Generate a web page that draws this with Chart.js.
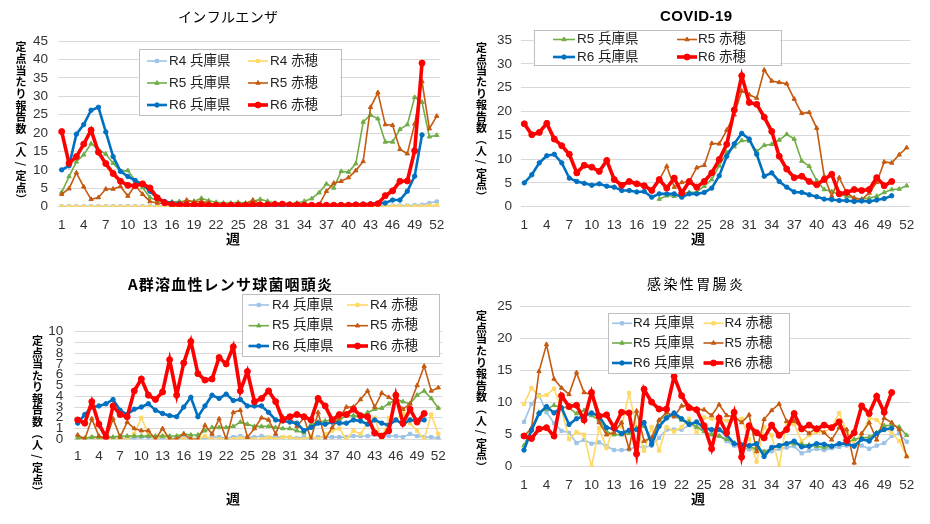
<!DOCTYPE html>
<html lang="ja">
<head>
<meta charset="utf-8">
<script src="https://cdn.jsdelivr.net/npm/chart.js@4.4.1/dist/chart.umd.min.js"></script>
<style>
html,body{margin:0;padding:0;background:#fff;}
body{width:930px;height:524px;position:relative;overflow:hidden;}
.q{position:absolute;width:465px;height:262px;}
.q canvas{display:block;}
</style>
</head>
<body>
<div class="q" style="left:0;top:0"><canvas id="c1" width="465" height="262"></canvas></div>
<div class="q" style="left:465px;top:0"><canvas id="c2" width="465" height="262"></canvas></div>
<div class="q" style="left:0;top:262px"><canvas id="c3" width="465" height="262"></canvas></div>
<div class="q" style="left:465px;top:262px"><canvas id="c4" width="465" height="262"></canvas></div>
<script>
// ---------------- DATA ----------------
const WEEKS = ['1','2','3','4','5','6','7','8','9','10','11','12','13','14','15','16','17','18','19','20',
  '21','22','23','24','25','26','27','28','29','30','31','32','33','34','35','36','37','38','39','40',
  '41','42','43','44','45','46','47','48','49','50','51','52'];

const SERIES_NAMES = ['R4 兵庫県', 'R4 赤穂', 'R5 兵庫県', 'R5 赤穂', 'R6 兵庫県', 'R6 赤穂'];

const TITLES = ['インフルエンザ', 'COVID-19', 'A群溶血性レンサ球菌咽頭炎', '感染性胃腸炎'];
const Y_TITLE = '定点当たり報告数（人/定点）';
const X_TITLE = '週';

// インフルエンザ
const FLU_R4_HYOGO = [0.1,0.1,0.1,0.1,0.1,0.1,0.1,0.1,0.1,0.1, 0.1,0.1,0.1,0.1,0.1,0.2,0.2,0.2,0.2,0.2,
  0.2,0.2,0.2,0.2,0.2,0.2,0.2,0.2,0.2,0.2, 0.2,0.2,0.2,0.2,0.2,0.2,0.2,0.2,0.2,0.2,
  0.2,0.2,0.2,0.2,0.3,0.3,0.3,0.3,0.4,0.5, 1.0,1.4];
const FLU_R4_AKO = [0,0,0,0,0,0,0,0,0,0, 0,0,0,0,0,0,0,0,0,0, 0,0,0,0,0,0,0,0,0,0, 0,0,0,0,0,0,0,0,0,0,
  0,0,0,0,0.1,0.1,0.1,0.1,0.1,0.1, 0.3,0.4];
const FLU_R5_HYOGO = [3.9,8.2,12.2,14.1,17.1,15.5,14.3,11.8,9.6,9.8, 7.1,5.2,2.5,1.6,1.4,1.3,1.4,1.5,1.5,2.3,
  1.6,1.2,1.0,1.0,1.2,1.0,1.5,2.0,1.5,1.0, 0.8,0.8,1.0,1.5,2.2,3.8,6.2,5.1,9.6,9.4,
  11.7,23.0,24.9,23.9,17.6,17.6,21.0,22.3,29.7,28.4, 19.0,19.4];
const FLU_R5_AKO = [3.4,4.9,9.2,5.4,2.0,2.5,4.8,4.8,5.5,2.9, 5.8,3.4,1.4,1.0,0.8,0.6,0.8,1.8,1.2,1.5,
  1.0,0.5,0.5,0.5,0.5,0.8,1.8,0.8,0.5,0.5, 0.5,0.5,0.5,0.3,0.3,0.5,4.2,6.4,6.9,7.9,
  9.8,12.3,27.0,31.0,22.3,22.1,15.6,14.4,22.5,34.0, 21.2,24.6];
const FLU_R6_HYOGO = [10.0,11.1,19.7,22.3,26.2,27.0,20.3,13.6,9.6,8.2, 7.1,6.1,4.2,2.4,1.4,1.0,0.8,0.6,0.5,0.5,
  0.4,0.3,0.3,0.2,0.2,0.2,0.2,0.2,0.3,0.3, 0.3,0.3,0.3,0.3,0.3,0.3,0.3,0.3,0.4,0.5,
  0.6,0.7,0.8,0.9,1.0,1.8,1.8,4.2,8.3,19.5, null,null];
const FLU_R6_AKO = [20.4,11.8,13.6,17.0,20.8,14.8,11.7,9.0,6.9,5.8, 5.7,6.2,5.1,2.4,1.1,0.6,0.5,0.5,0.5,0.5,
  0.4,0.4,0.4,0.4,0.4,0.4,0.5,0.5,0.5,0.6, 0.7,0.5,0.5,0.4,0.4,0.4,0.4,0.4,0.4,0.4,
  0.5,0.5,0.5,0.8,3.0,4.3,6.9,7.0,15.2,39.0, null,null];

// COVID-19
const COV_R5_HYOGO = [null,null,null,null,null,null,null,null,null,null, null,null,null,null,null,null,null,null,
  1.6,2.3, 2.2,2.7,3.0,3.1,4.3,5.7,8.6,11.4,12.6,13.9, 13.8,11.6,12.9,13.1,14.0,15.2,14.2,9.6,8.5,5.5,
  3.6,3.2,2.5,2.2,1.8,1.6,1.8,2.2,3.0,3.6, 3.7,4.4];
const COV_R5_AKO = [null,null,null,null,null,null,null,null,null,null, null,null,null,null,null,null,null,null,
  5.7,8.5, 4.1,5.1,5.3,8.2,8.7,13.3,13.2,16.1,19.3,24.3, 23.5,22.8,28.7,26.4,26.1,25.8,22.6,19.6,19.8,16.5,
  6.4,2.2,6.1,2.9,1.8,1.5,2.9,5.1,9.4,9.2, 10.9,12.4];
const COV_R6_HYOGO = [5.0,6.7,9.2,10.7,11.0,9.2,6.0,5.3,4.9,4.5, 4.8,4.3,4.1,3.4,3.4,3.1,3.2,2.0,2.7,2.7,
  2.7,2.0,2.7,2.7,3.0,3.9,6.5,10.6,13.2,15.4, 14.2,11.0,6.4,7.1,5.3,4.1,3.1,3.0,2.5,2.1,
  1.6,1.5,1.3,1.3,1.1,1.2,1.1,1.4,1.7,2.3, null,null];
const COV_R6_AKO = [17.4,15.1,15.6,17.5,14.2,12.8,11.0,7.1,8.7,8.3, 7.4,9.7,5.7,4.5,5.3,4.8,4.4,3.4,5.7,3.9,
  6.0,2.9,5.3,4.1,5.3,7.1,9.9,13.1,20.3,27.5, 21.9,21.5,18.8,15.8,10.6,7.9,6.1,6.4,5.3,4.6,
  5.7,6.8,2.7,3.0,3.6,3.4,3.6,6.1,4.4,5.3, null,null];

// A群溶血性レンサ球菌咽頭炎
const ST_R4_HYOGO = [0.1,0.1,0.2,0.1,0.1,0.1,0.1,0.1,0.1,0.2, 0.2,0.1,0.1,0.1,0.1,0.1,0.1,0.1,0.1,0.2,
  0.2,0.1,0.2,0.3,0.2,0.2,0.3,0.2,0.2,0.2, 0.2,0.1,0.2,0.1,0.2,0.2,0.2,0.2,0.2,0.3,
  0.3,0.3,0.4,0.3,0.3,0.3,0.2,0.5,0.3,0.2, 0.2,0.1];
const ST_R4_AKO = [0,0,0.2,0,0,0.1,0,0,0.5,2.0, 0.5,0,0.3,0,0,0,0,0,0.3,0,
  0,0,0,0.1,0.1,0,0,0.2,0,0.2, 0.2,0,0,0.3,0,0.5,0.8,1.0,0,0.8,
  0.5,1.5,2.0,0,2.0,1.8,2.4,1.5,0.8,0, 2.3,0.5];
const ST_R5_HYOGO = [0.1,0.1,0.2,0.2,0.2,0.2,0.3,0.3,0.3,0.3, 0.3,0.3,0.3,0.3,0.3,0.5,0.4,0.4,0.8,1.1,
  1.1,1.1,1.2,1.6,1.4,1.2,1.2,1.2,1.1,1.0, 1.0,0.8,0.6,1.4,1.6,1.7,1.8,1.8,2.2,2.2,
  2.1,2.5,2.8,2.9,3.3,3.7,3.5,3.3,4.1,4.5, 3.8,2.9];
const ST_R5_AKO = [0.4,0,1.9,0.3,0,1.9,0.2,1.6,1.0,0.8, 0.8,0,1.0,0,0,0.5,0,0,1.3,0.5,
  1.9,0,2.5,2.7,0.2,1.0,2.0,1.8,0.5,2.1, 2.0,1.2,2.0,0,2.5,0,1.1,2.0,3.0,3.0,
  3.7,4.5,3.0,4.3,3.9,3.5,2.8,3.3,5.0,6.8, 4.5,4.8];
const ST_R6_HYOGO = [1.5,2.3,3.0,3.1,3.3,3.7,2.7,2.3,2.8,3.0, 3.3,2.7,2.4,2.2,2.1,3.0,3.9,2.1,3.1,4.1,
  3.8,4.2,3.6,3.7,3.1,3.1,3.1,2.5,1.8,1.7, 1.6,1.5,0.8,1.1,1.5,1.4,1.6,1.5,1.5,1.8,
  1.7,1.4,1.8,1.5,1.3,1.8,1.4,1.8,1.7,1.8, null,null];
const ST_R6_AKO = [1.8,1.5,3.5,1.4,0.2,3.1,2.3,2.1,4.5,5.6, 4.1,3.7,4.4,7.4,4.1,7.1,9.1,6.1,5.5,5.6,
  7.6,7.0,8.6,4.5,6.3,3.5,3.8,4.5,3.5,1.8, 2.1,2.3,2.1,1.8,3.8,3.1,1.8,2.3,2.3,2.8,
  2.2,2.1,0.6,0.3,0.8,4.1,1.5,2.8,1.6,2.4, null,null];

// 感染性胃腸炎
const GA_R4_HYOGO = [7.0,9.8,11.2,8.5,6.8,5.6,5.3,3.7,4.2,3.6, 3.8,3.2,2.6,2.6,2.7,3.2,3.0,3.3,4.5,5.8,
  5.8,5.8,6.5,6.2,6.0,5.5,4.8,4.0,3.3,2.9, 2.7,2.7,2.4,2.4,2.8,3.0,3.2,2.1,2.5,2.8,
  2.6,2.9,3.1,3.3,3.5,3.3,2.8,3.3,3.7,4.8, 5.2,3.9];
const GA_R4_AKO = [9.8,12.3,11.0,11.2,12.2,9.0,4.3,5.4,5.0,0, 6.0,2.9,6.5,6.3,11.5,6.2,2.5,6.2,2.5,6.2,
  5.5,6.2,7.5,5.4,7.7,7.5,7.5,7.2,7.5,7.5, 4.3,0.8,6.2,4.9,0,6.9,6.6,4.0,4.9,5.4,
  5.4,6.1,8.4,5.5,4.0,5.0,7.6,7.3,6.1,5.3, 4.0,1.6];
const GA_R5_HYOGO = [3.3,6.0,8.5,9.0,9.6,9.3,9.2,8.3,8.8,8.0, 7.3,5.5,5.0,5.0,5.2,6.0,6.3,4.2,7.2,8.0,
  8.0,7.3,7.0,6.2,5.5,5.0,4.8,4.3,3.7,3.4, 3.1,2.8,2.3,2.9,3.2,3.6,3.6,3.5,3.4,3.2,
  3.0,3.2,3.5,3.7,4.3,4.5,4.6,5.3,6.4,6.5, 6.2,4.9];
const GA_R5_AKO = [4.8,6.0,14.9,19.1,13.7,12.3,11.3,14.7,11.6,11.3, 6.9,5.0,5.3,6.9,2.8,8.7,4.0,4.5,7.3,8.5,
  7.8,9.5,9.5,9.0,8.9,8.0,9.7,8.0,7.8,6.9, 8.1,2.4,7.4,8.8,9.8,7.1,7.1,6.1,5.2,6.1,
  5.3,4.2,6.1,5.8,0.6,5.2,6.9,4.2,7.6,6.9, 5.8,1.6];
const GA_R6_HYOGO = [2.6,5.7,8.3,9.4,8.4,9.2,6.6,7.5,7.9,8.4, 7.9,6.1,5.9,5.2,5.7,5.8,6.9,3.5,6.3,7.6,
  8.4,7.5,6.6,7.0,6.1,5.8,5.8,5.0,3.6,3.4, 3.3,3.6,1.6,3.0,3.3,3.6,4.0,3.1,3.2,3.6,
  3.5,3.2,3.6,3.6,3.2,4.3,4.0,5.2,5.8,6.0, null,null];
const GA_R6_AKO = [4.8,4.4,5.9,6.1,4.8,11.1,9.4,9.6,7.3,11.6, 7.9,8.1,6.1,8.5,8.4,2.0,12.1,10.1,9.0,9.0,
  14.1,11.1,9.2,8.9,6.4,2.8,7.6,5.3,8.5,1.5, 6.4,5.3,4.5,6.5,4.9,5.8,8.3,5.9,6.5,5.9,
  6.5,6.1,7.0,4.1,5.3,9.5,8.3,11.0,8.5,11.6, null,null];

// ---------------- STYLE ----------------
const LATIN = "'Liberation Sans', Arial, 'Noto Sans CJK JP', sans-serif";
const CJK = "'Noto Sans CJK JP', 'Liberation Sans', sans-serif";
const TICK_COLOR = '#333333';
const STYLE = {
  'R4 兵庫県': {color:'#9DC3E6', width:1.6, point:'rect', r:2.3},
  'R4 赤穂':   {color:'#FFD966', width:1.6, point:'rect', r:2.3},
  'R5 兵庫県': {color:'#70AD47', width:1.6, point:'triangle', r:2.5},
  'R5 赤穂':   {color:'#C55A11', width:1.6, point:'triangle', r:2.5},
  'R6 兵庫県': {color:'#0070C0', width:2.6, point:'circle', r:2.2},
  'R6 赤穂':   {color:'#FF0000', width:3.6, point:'circle', r:3.0}
};

function mkDs(name, data) {
  const s = STYLE[name];
  return {label:name, data:data, borderColor:s.color, backgroundColor:s.color, borderWidth:s.width,
    pointStyle:s.point, pointRadius:s.r, pointHoverRadius:s.r, pointBorderWidth:1,
    pointBackgroundColor:s.color, pointBorderColor:s.color, tension:0, spanGaps:false, fill:false};
}

function drawSpaced(ctx, text, cx, cy, font, width, color) {
  ctx.font = font; ctx.textBaseline = 'middle'; ctx.textAlign = 'left'; ctx.fillStyle = color;
  const chars = Array.from(text);
  const ws = chars.map(c => ctx.measureText(c).width);
  const tot = ws.reduce((a, b) => a + b, 0);
  const gap = chars.length > 1 ? (width - tot) / (chars.length - 1) : 0;
  let x = cx - width / 2;
  chars.forEach((c, i) => { ctx.fillText(c, x, cy); x += ws[i] + gap; });
}

function drawDecor(chart, P) {
  const ctx = chart.ctx;
  ctx.save();
  ctx.translate(-P.ox, -P.oy);
  // title
  drawSpaced(ctx, P.title.text, P.title.x, P.title.y, P.title.font, P.title.w, '#000');
  // x title
  ctx.font = "bold 14px " + CJK; ctx.textAlign = 'center'; ctx.textBaseline = 'middle'; ctx.fillStyle = '#000';
  ctx.fillText(X_TITLE, P.xt.x, P.xt.y);
  // y title (vertical, stacked)
  ctx.font = "bold 11px " + CJK;
  Array.from(Y_TITLE).forEach((ch, i) => {
    const y = P.yt.y0 + i * P.yt.step;
    if ('（）/'.includes(ch)) {
      ctx.save(); ctx.translate(P.yt.x, y); ctx.rotate(Math.PI / 2); ctx.fillText(ch, 0, 0); ctx.restore();
    } else {
      ctx.fillText(ch, P.yt.x, y);
    }
  });
  // legend
  const L = P.legend;
  ctx.fillStyle = '#ffffff';
  ctx.fillRect(L.box[0], L.box[1], L.box[2], L.box[3]);
  ctx.strokeStyle = '#bfbfbf'; ctx.lineWidth = 1;
  ctx.strokeRect(Math.round(L.box[0]) + 0.5, Math.round(L.box[1]) + 0.5, Math.round(L.box[2]), Math.round(L.box[3]));
  ctx.font = "13.5px " + LATIN; ctx.textAlign = 'left'; ctx.textBaseline = 'middle';
  L.items.forEach(it => {
    const s = STYLE[it.name];
    const y = L.rows[it.r], c = L.cols[it.c];
    ctx.strokeStyle = s.color; ctx.lineWidth = s.width;
    ctx.beginPath(); ctx.moveTo(c.m0, y); ctx.lineTo(c.m1, y); ctx.stroke();
    ctx.fillStyle = s.color; ctx.lineWidth = 1;
    Chart.helpers.drawPoint(ctx, {pointStyle:s.point, radius:s.r, rotation:0, borderWidth:1}, (c.m0 + c.m1) / 2, y);
    ctx.fillStyle = '#222';
    ctx.fillText(it.name, c.t, y);
  });
  ctx.restore();
}

function build(P) {
  const datasets = P.series.map(s => mkDs(s[0], s[1])).reverse();
  new Chart(document.getElementById(P.id), {
    type: 'line',
    data: {labels: WEEKS, datasets: datasets},
    options: {
      responsive: false, animation: false, devicePixelRatio: 1, events: [],
      layout: {padding: {left: 0, right: P.ox + 465 - P.area.r, top: P.area.t - P.oy, bottom: 0}},
      plugins: {legend: {display: false}, title: {display: false}, tooltip: {enabled: false}},
      scales: {
        x: {type: 'category', offset: true, grid: {display: false}, border: {display: false},
          ticks: {autoSkip: false, maxRotation: 0, minRotation: 0, padding: P.xPad, color: TICK_COLOR,
            font: {family: LATIN, size: 13.5},
            callback: (v, i) => (i % 3 === 0 ? WEEKS[i] : '')},
          afterFit: s => { s.height = P.oy + 262 - P.area.b; }},
        y: {min: 0, max: P.yMax, grid: {color: '#d9d9d9', drawTicks: false, lineWidth: 1}, border: {display: false},
          ticks: {stepSize: P.yStep, autoSkip: false, padding: P.yPad, color: TICK_COLOR,
            font: {family: LATIN, size: 13.5}},
          afterFit: s => { s.width = P.area.l - P.ox; }}
      }
    },
    plugins: [{id: 'decor', afterDraw(chart) { drawDecor(chart, P); }}]
  });
}

const LEG6 = [
  {name: SERIES_NAMES[0], r: 0, c: 0}, {name: SERIES_NAMES[1], r: 0, c: 1},
  {name: SERIES_NAMES[2], r: 1, c: 0}, {name: SERIES_NAMES[3], r: 1, c: 1},
  {name: SERIES_NAMES[4], r: 2, c: 0}, {name: SERIES_NAMES[5], r: 2, c: 1}
];
const LEG4 = [
  {name: SERIES_NAMES[2], r: 0, c: 0}, {name: SERIES_NAMES[3], r: 0, c: 1},
  {name: SERIES_NAMES[4], r: 1, c: 0}, {name: SERIES_NAMES[5], r: 1, c: 1}
];

build({
  id: 'c1', ox: 0, oy: 0, area: {l: 58.0, r: 440.4, t: 41, b: 206.7}, yMax: 45, yStep: 5, yPad: 10, xPad: 2.2,
  series: [[SERIES_NAMES[0], FLU_R4_HYOGO], [SERIES_NAMES[1], FLU_R4_AKO], [SERIES_NAMES[2], FLU_R5_HYOGO],
           [SERIES_NAMES[3], FLU_R5_AKO], [SERIES_NAMES[4], FLU_R6_HYOGO], [SERIES_NAMES[5], FLU_R6_AKO]],
  title: {text: TITLES[0], x: 228, y: 17, font: "14px " + CJK, w: 100},
  xt: {x: 233, y: 239}, yt: {x: 21, y0: 47, step: 11.7},
  legend: {box: [138.5, 49, 201.5, 66], rows: [61, 83, 105],
    cols: [{m0: 147, m1: 167, t: 169}, {m0: 248, m1: 268, t: 270}], items: LEG6}
});

build({
  id: 'c2', ox: 465, oy: 0, area: {l: 520.55, r: 910.45, t: 40, b: 206.7}, yMax: 35, yStep: 5, yPad: 8.5, xPad: 2.2,
  series: [[SERIES_NAMES[2], COV_R5_HYOGO], [SERIES_NAMES[3], COV_R5_AKO],
           [SERIES_NAMES[4], COV_R6_HYOGO], [SERIES_NAMES[5], COV_R6_AKO]],
  title: {text: TITLES[1], x: 696, y: 17, font: "bold 15px " + LATIN, w: 72},
  xt: {x: 698, y: 239}, yt: {x: 481.5, y0: 48, step: 11.4},
  legend: {box: [533.5, 30, 246.5, 35], rows: [39.5, 57],
    cols: [{m0: 553, m1: 575, t: 577}, {m0: 677, m1: 697, t: 698}], items: LEG4}
});

build({
  id: 'c3', ox: 0, oy: 262, area: {l: 74.16, r: 441.84, t: 331.7, b: 439.3}, yMax: 10, yStep: 1, yPad: 11, xPad: 0.6,
  series: [[SERIES_NAMES[0], ST_R4_HYOGO], [SERIES_NAMES[1], ST_R4_AKO], [SERIES_NAMES[2], ST_R5_HYOGO],
           [SERIES_NAMES[3], ST_R5_AKO], [SERIES_NAMES[4], ST_R6_HYOGO], [SERIES_NAMES[5], ST_R6_AKO]],
  title: {text: TITLES[2], x: 230, y: 284, font: "bold 15px " + CJK, w: 204},
  xt: {x: 233, y: 499}, yt: {x: 37.5, y0: 341, step: 11.55},
  legend: {box: [242, 293.5, 197, 61.5], rows: [305, 325.7, 346],
    cols: [{m0: 248.5, m1: 269, t: 272}, {m0: 347, m1: 368, t: 370}], items: LEG6}
});

build({
  id: 'c4', ox: 465, oy: 262, area: {l: 520.25, r: 910.45, t: 306.7, b: 466.7}, yMax: 25, yStep: 5, yPad: 8, xPad: 2.2,
  series: [[SERIES_NAMES[0], GA_R4_HYOGO], [SERIES_NAMES[1], GA_R4_AKO], [SERIES_NAMES[2], GA_R5_HYOGO],
           [SERIES_NAMES[3], GA_R5_AKO], [SERIES_NAMES[4], GA_R6_HYOGO], [SERIES_NAMES[5], GA_R6_AKO]],
  title: {text: TITLES[3], x: 695, y: 284, font: "14px " + CJK, w: 96},
  xt: {x: 698, y: 499}, yt: {x: 481.5, y0: 316, step: 11.6},
  legend: {box: [608, 313, 181, 60], rows: [323.3, 343, 363],
    cols: [{m0: 612, m1: 632, t: 633}, {m0: 703.5, m1: 723.5, t: 724.5}], items: LEG6}
});
</script>
</body>
</html>
